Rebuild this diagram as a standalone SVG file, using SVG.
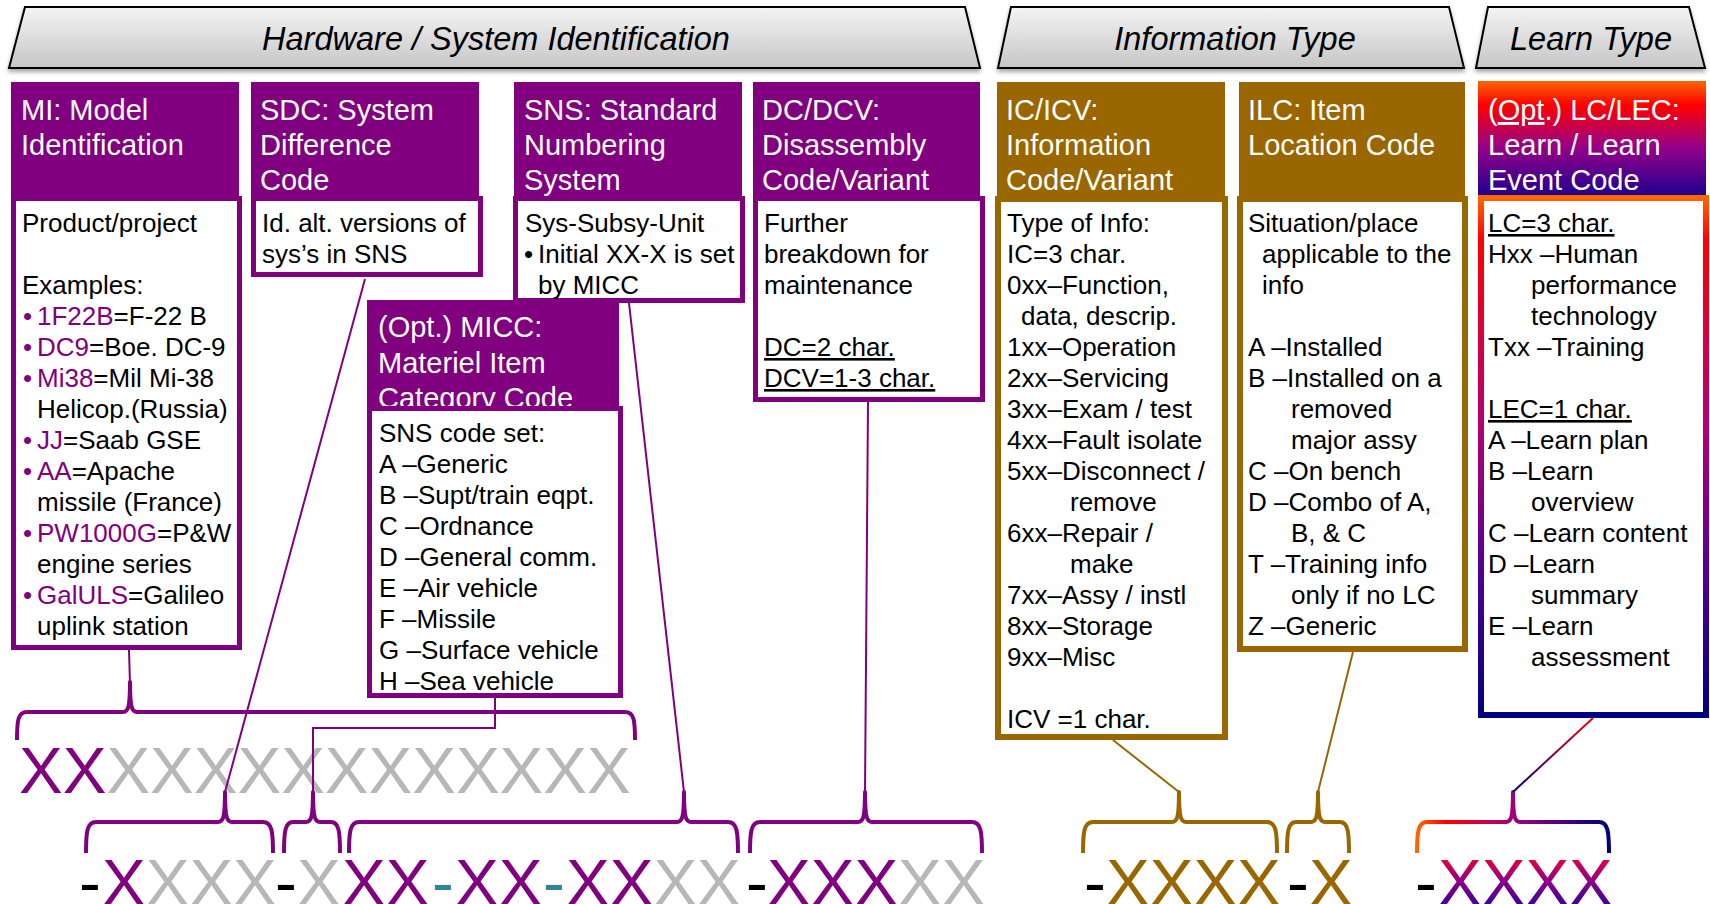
<svg xmlns="http://www.w3.org/2000/svg" width="1710" height="904" viewBox="0 0 1710 904">
<defs>
<style>
text{font-family:"Liberation Sans",Arial,sans-serif}
.ban{stroke:#000;stroke-width:2;fill:url(#banG);filter:url(#sh)}
.bt{font-size:32.5px;font-style:italic;fill:#000;text-anchor:middle}
.hp{fill:#800080}
.hb{fill:#996600}
.bp{fill:#fff;stroke:#800080;stroke-width:5}
.bb{fill:#fff;stroke:#996600;stroke-width:6}
.tt{font-size:29px;fill:#fff}
.tx{font-size:26px;fill:#000}
.pu{fill:#800080}
.u{text-decoration:underline}
.code{font-size:65.5px}
.g{fill:#b7b7b7}
.p{fill:#800080}
.k{fill:#000}
.tl{fill:#31849b}
.br{fill:#996600}
.brace{fill:none;stroke-width:4;stroke-linejoin:round;stroke-linecap:butt}
.ln{fill:none;stroke-width:2}
</style>
<linearGradient id="banG" x1="0" y1="0" x2="0" y2="1">
<stop offset="0" stop-color="#f4f4f4"/>
<stop offset="1" stop-color="#c6c6c6"/>
</linearGradient>
<filter id="sh" x="-5%" y="-20%" width="110%" height="150%">
<feDropShadow dx="0" dy="3" stdDeviation="2" flood-color="#000" flood-opacity="0.35"/>
</filter>
<linearGradient id="lcHead" x1="0" y1="0" x2="0" y2="1">
<stop offset="0" stop-color="#ff6600"/>
<stop offset="0.2" stop-color="#ff0000"/>
<stop offset="0.55" stop-color="#990088"/>
<stop offset="1" stop-color="#14008f"/>
</linearGradient>
<linearGradient id="lcBox" x1="0" y1="0" x2="0" y2="1">
<stop offset="0" stop-color="#ff6600"/>
<stop offset="0.08" stop-color="#ff0000"/>
<stop offset="0.45" stop-color="#b0007a"/>
<stop offset="0.75" stop-color="#4b0090"/>
<stop offset="1" stop-color="#000080"/>
</linearGradient>
<linearGradient id="lcText" gradientUnits="userSpaceOnUse" x1="0" y1="858" x2="0" y2="905">
<stop offset="0" stop-color="#e8003a"/>
<stop offset="0.5" stop-color="#8a0088"/>
<stop offset="1" stop-color="#3c009a"/>
</linearGradient>
<linearGradient id="lcBrace" gradientUnits="userSpaceOnUse" x1="1417" y1="0" x2="1609" y2="0">
<stop offset="0" stop-color="#ff6600"/>
<stop offset="0.15" stop-color="#ff0000"/>
<stop offset="0.5" stop-color="#a0007a"/>
<stop offset="1" stop-color="#000080"/>
</linearGradient>
<linearGradient id="lcLine" gradientUnits="userSpaceOnUse" x1="1593" y1="718" x2="1513" y2="792">
<stop offset="0" stop-color="#ff0000"/>
<stop offset="1" stop-color="#000080"/>
</linearGradient>
</defs>
<rect width="1710" height="904" fill="#fff"/>

<g id="banner-hardware">
<polygon class="ban" points="25,7 965,7 980,68 9,68"/>
<text class="bt" x="496" y="50">Hardware / System Identification</text>
</g>
<g id="banner-information">
<polygon class="ban" points="1011,7 1449,7 1464,68 998,68"/>
<text class="bt" x="1235" y="50">Information Type</text>
</g>
<g id="banner-learn">
<polygon class="ban" points="1488,7 1689,7 1705,68 1476,68"/>
<text class="bt" x="1591" y="50">Learn Type</text>
</g>

<g id="node-mi">
<rect class="hp" x="11" y="82" width="228" height="118"/>
<text class="tt" x="21" y="120">MI: Model</text>
<text class="tt" x="21" y="155">Identification</text>
<rect class="bp" x="13.5" y="198.5" width="226" height="449"/>
<text class="tx" x="22" y="232">Product/project</text>
<text class="tx" x="22" y="294">Examples:</text>
<text class="tx" x="23" y="325"><tspan class="pu">•</tspan><tspan class="pu" x="37">1F22B</tspan>=F-22 B</text>
<text class="tx" x="23" y="356"><tspan class="pu">•</tspan><tspan class="pu" x="37">DC9</tspan>=Boe. DC-9</text>
<text class="tx" x="23" y="387"><tspan class="pu">•</tspan><tspan class="pu" x="37">Mi38</tspan>=Mil Mi-38</text>
<text class="tx" x="37" y="418">Helicop.(Russia)</text>
<text class="tx" x="23" y="449"><tspan class="pu">•</tspan><tspan class="pu" x="37">JJ</tspan>=Saab GSE</text>
<text class="tx" x="23" y="480"><tspan class="pu">•</tspan><tspan class="pu" x="37">AA</tspan>=Apache</text>
<text class="tx" x="37" y="511">missile (France)</text>
<text class="tx" x="23" y="542"><tspan class="pu">•</tspan><tspan class="pu" x="37">PW1000G</tspan>=P&amp;W</text>
<text class="tx" x="37" y="573">engine series</text>
<text class="tx" x="23" y="604"><tspan class="pu">•</tspan><tspan class="pu" x="37">GalULS</tspan>=Galileo</text>
<text class="tx" x="37" y="635">uplink station</text>
</g>

<g id="node-sdc">
<rect class="hp" x="251" y="82" width="228" height="118"/>
<text class="tt" x="260" y="120">SDC: System</text>
<text class="tt" x="260" y="155">Difference</text>
<text class="tt" x="260" y="190">Code</text>
<rect class="bp" x="253.5" y="198.5" width="227" height="76"/>
<text class="tx" x="262" y="232">Id. alt. versions of</text>
<text class="tx" x="262" y="263">sys’s in SNS</text>
</g>

<g id="node-sns">
<rect class="hp" x="514" y="82" width="228" height="118"/>
<text class="tt" x="524" y="120">SNS: Standard</text>
<text class="tt" x="524" y="155">Numbering</text>
<text class="tt" x="524" y="190">System</text>
<rect class="bp" x="515.5" y="198.5" width="227" height="102"/>
<text class="tx" x="525" y="232">Sys-Subsy-Unit</text>
<text class="tx" x="524" y="263">•<tspan x="538">Initial XX-X is set</tspan></text>
<text class="tx" x="538" y="294">by MICC</text>
</g>

<g id="node-dc">
<rect class="hp" x="753" y="82" width="227" height="118"/>
<text class="tt" x="762" y="120">DC/DCV:</text>
<text class="tt" x="762" y="155">Disassembly</text>
<text class="tt" x="762" y="190">Code/Variant</text>
<rect class="bp" x="755.5" y="198.5" width="227" height="201"/>
<text class="tx" x="764" y="232">Further</text>
<text class="tx" x="764" y="263">breakdown for</text>
<text class="tx" x="764" y="294">maintenance</text>
<text class="tx u" x="764" y="356">DC=2 char.</text>
<text class="tx u" x="764" y="387">DCV=1-3 char.</text>
</g>

<g id="node-micc">
<rect class="hp" x="367" y="300" width="252" height="110"/>
<text class="tt" x="378" y="337">(Opt.) MICC:</text>
<text class="tt" x="378" y="373">Materiel Item</text>
<text class="tt" x="378" y="408">Category Code</text>
<rect class="bp" x="369.5" y="408.5" width="251" height="287"/>
<text class="tx" x="379" y="442">SNS code set:</text>
<text class="tx" x="379" y="473">A –Generic</text>
<text class="tx" x="379" y="504">B –Supt/train eqpt.</text>
<text class="tx" x="379" y="535">C –Ordnance</text>
<text class="tx" x="379" y="566">D –General comm.</text>
<text class="tx" x="379" y="597">E –Air vehicle</text>
<text class="tx" x="379" y="628">F –Missile</text>
<text class="tx" x="379" y="659">G –Surface vehicle</text>
<text class="tx" x="379" y="690">H –Sea vehicle</text>
</g>

<g id="node-ic">
<rect class="hb" x="997" y="82" width="228" height="118"/>
<text class="tt" x="1006" y="120">IC/ICV:</text>
<text class="tt" x="1006" y="155">Information</text>
<text class="tt" x="1006" y="190">Code/Variant</text>
<rect class="bb" x="998" y="199" width="227" height="538"/>
<text class="tx" x="1007" y="232">Type of Info:</text>
<text class="tx" x="1007" y="263">IC=3 char.</text>
<text class="tx" x="1007" y="294">0xx–Function,</text>
<text class="tx" x="1021" y="325">data, descrip.</text>
<text class="tx" x="1007" y="356">1xx–Operation</text>
<text class="tx" x="1007" y="387">2xx–Servicing</text>
<text class="tx" x="1007" y="418">3xx–Exam / test</text>
<text class="tx" x="1007" y="449">4xx–Fault isolate</text>
<text class="tx" x="1007" y="480">5xx–Disconnect /</text>
<text class="tx" x="1070" y="511">remove</text>
<text class="tx" x="1007" y="542">6xx–Repair /</text>
<text class="tx" x="1070" y="573">make</text>
<text class="tx" x="1007" y="604">7xx–Assy / instl</text>
<text class="tx" x="1007" y="635">8xx–Storage</text>
<text class="tx" x="1007" y="666">9xx–Misc</text>
<text class="tx" x="1007" y="728">ICV =1 char.</text>
</g>

<g id="node-ilc">
<rect class="hb" x="1239" y="82" width="226" height="118"/>
<text class="tt" x="1248" y="120">ILC: Item</text>
<text class="tt" x="1248" y="155">Location Code</text>
<rect class="bb" x="1240" y="199" width="225" height="450"/>
<text class="tx" x="1248" y="232">Situation/place</text>
<text class="tx" x="1262" y="263">applicable to the</text>
<text class="tx" x="1262" y="294">info</text>
<text class="tx" x="1248" y="356">A –Installed</text>
<text class="tx" x="1248" y="387">B –Installed on a</text>
<text class="tx" x="1291" y="418">removed</text>
<text class="tx" x="1291" y="449">major assy</text>
<text class="tx" x="1248" y="480">C –On bench</text>
<text class="tx" x="1248" y="511">D –Combo of A,</text>
<text class="tx" x="1291" y="542">B, &amp; C</text>
<text class="tx" x="1248" y="573">T –Training info</text>
<text class="tx" x="1291" y="604">only if no LC</text>
<text class="tx" x="1248" y="635">Z –Generic</text>
</g>

<g id="node-lc">
<rect x="1478" y="81" width="228" height="119" fill="url(#lcHead)"/>
<text class="tt" x="1488" y="120">(<tspan class="u">Opt</tspan>.) LC/LEC:</text>
<text class="tt" x="1488" y="155">Learn / Learn</text>
<text class="tt" x="1488" y="190">Event Code</text>
<rect x="1481" y="198" width="225" height="517" fill="#fff" stroke="url(#lcBox)" stroke-width="6"/>
<text class="tx u" x="1488" y="232">LC=3 char.</text>
<text class="tx" x="1488" y="263">Hxx –Human</text>
<text class="tx" x="1531" y="294">performance</text>
<text class="tx" x="1531" y="325">technology</text>
<text class="tx" x="1488" y="356">Txx –Training</text>
<text class="tx u" x="1488" y="418">LEC=1 char.</text>
<text class="tx" x="1488" y="449">A –Learn plan</text>
<text class="tx" x="1488" y="480">B –Learn</text>
<text class="tx" x="1531" y="511">overview</text>
<text class="tx" x="1488" y="542">C –Learn content</text>
<text class="tx" x="1488" y="573">D –Learn</text>
<text class="tx" x="1531" y="604">summary</text>
<text class="tx" x="1488" y="635">E –Learn</text>
<text class="tx" x="1531" y="666">assessment</text>
</g>

<g id="codes">
<text class="code" y="793"><tspan class="p" x="19">XX</tspan><tspan class="g">XXXXXXXXXXXX</tspan></text>
<text class="code" y="905"><tspan class="k" x="79">-</tspan><tspan class="p" x="102">X</tspan><tspan class="g">XXX</tspan><tspan class="k" x="275">-</tspan><tspan class="g" x="297">X</tspan><tspan class="p" x="342">XX</tspan><tspan class="tl" x="432">-</tspan><tspan class="p" x="455">XX</tspan><tspan class="tl" x="543">-</tspan><tspan class="p" x="566">XX</tspan><tspan class="g">XX</tspan><tspan class="k" x="746">-</tspan><tspan class="p" x="767">XXX</tspan><tspan class="g">XX</tspan><tspan class="k" x="1084">-</tspan><tspan class="br" x="1106">XXXX</tspan><tspan class="k" x="1287">-</tspan><tspan class="br" x="1309">X</tspan><tspan class="k" x="1415">-</tspan><tspan x="1438" fill="url(#lcText)">XXXX</tspan></text>
</g>

<g id="connectors">
<path class="brace" stroke="#800080" d="M17,740 C17,720 18,712 27,712 L123,712 C128,712 130,708 130,682 C130,708 132,712 137,712 L625,712 C634,712 635,720 635,740"/>
<path class="brace" stroke="#800080" d="M86,853 C86,832 87,822 96,822 L218,822 C223,822 225,818 225,792 C225,818 227,822 232,822 L263,822 C272,822 273,832 273,853"/>
<path class="brace" stroke="#800080" d="M284,853 C284,832 285,822 293,822 L306,822 C311,822 313,818 313,792 C313,818 315,822 320,822 L331,822 C339,822 340,832 340,853"/>
<path class="brace" stroke="#800080" d="M349,853 C349,832 350,822 359,822 L677,822 C682,822 684,818 684,792 C684,818 686,822 691,822 L728,822 C737,822 738,832 738,853"/>
<path class="brace" stroke="#800080" d="M750,853 C750,832 751,822 760,822 L858,822 C863,822 865,818 865,792 C865,818 867,822 872,822 L972,822 C981,822 982,832 982,853"/>
<path class="brace" stroke="#996600" d="M1083,853 C1083,832 1084,822 1093,822 L1172,822 C1177,822 1179,818 1179,792 C1179,818 1181,822 1186,822 L1267,822 C1276,822 1277,832 1277,853"/>
<path class="brace" stroke="#996600" d="M1287,853 C1287,832 1288,822 1296,822 L1311,822 C1316,822 1318,818 1318,792 C1318,818 1320,822 1325,822 L1340,822 C1348,822 1349,832 1349,853"/>
<path class="brace" stroke="url(#lcBrace)" d="M1417,853 C1417,832 1418,822 1427,822 L1506,822 C1511,822 1513,818 1513,792 C1513,818 1515,822 1520,822 L1599,822 C1608,822 1609,832 1609,853"/>
<line class="ln" stroke="#800080" x1="129" y1="650" x2="130" y2="684"/>
<line class="ln" stroke="#800080" x1="365" y1="279" x2="225" y2="792"/>
<polyline class="ln" stroke="#800080" points="495,698 495,728 313,728 313,794"/>
<line class="ln" stroke="#800080" x1="629" y1="303" x2="684" y2="792"/>
<line class="ln" stroke="#800080" x1="868" y1="402" x2="865" y2="792"/>
<line class="ln" stroke="#996600" x1="1113" y1="740" x2="1179" y2="792"/>
<line class="ln" stroke="#996600" x1="1353" y1="652" x2="1318" y2="792"/>
<line class="ln" stroke="url(#lcLine)" x1="1593" y1="718" x2="1513" y2="792"/>
</g>
</svg>
